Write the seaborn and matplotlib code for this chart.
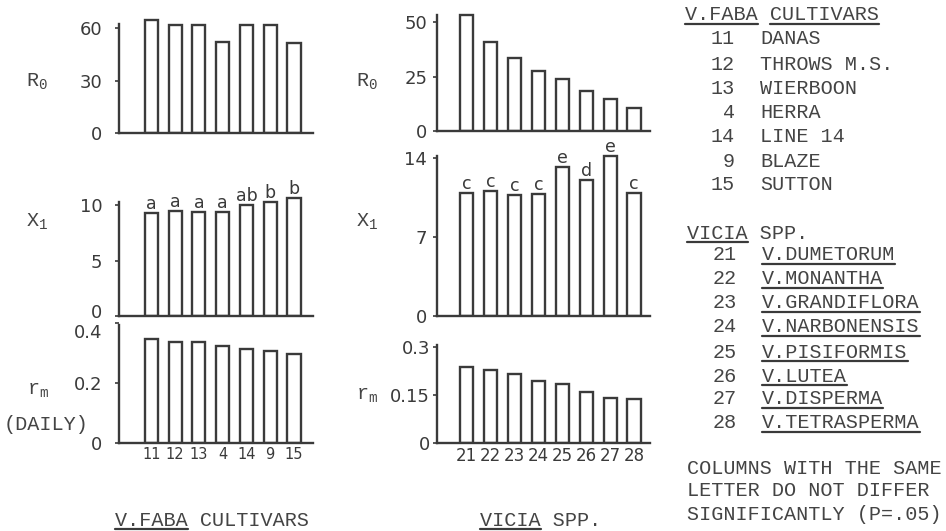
import matplotlib
matplotlib.use('Agg')
import matplotlib.pyplot as plt
from matplotlib.lines import Line2D
from matplotlib.transforms import ScaledTranslation
import seaborn as sns

# ---------------- data ----------------
faba_ids = ['11', '12', '13', '4', '14', '9', '15']
faba_R0 = [64.5, 62, 62, 52, 62, 62, 51.5]
faba_X1 = [9.25, 9.5, 9.4, 9.4, 10.0, 10.3, 10.6]
faba_rm = [0.347, 0.337, 0.337, 0.323, 0.313, 0.307, 0.297]
faba_letters = ['a', 'a', 'a', 'a', 'ab', 'b', 'b']
faba_names = ['DANAS', 'THROWS M.S.', 'WIERBOON', 'HERRA', 'LINE 14', 'BLAZE', 'SUTTON']

vicia_ids = ['21', '22', '23', '24', '25', '26', '27', '28']
vicia_R0 = [53, 41, 33.5, 27.5, 24, 18.5, 14.5, 10.5]
vicia_X1 = [10.9, 11.1, 10.7, 10.8, 13.2, 12.0, 14.2, 10.9]
vicia_rm = [0.238, 0.228, 0.215, 0.195, 0.185, 0.16, 0.14, 0.137]
vicia_letters = ['c', 'c', 'c', 'c', 'e', 'd', 'e', 'c']
vicia_names = ['V.DUMETORUM', 'V.MONANTHA', 'V.GRANDIFLORA', 'V.NARBONENSIS',
               'V.PISIFORMIS', 'V.LUTEA', 'V.DISPERMA', 'V.TETRASPERMA']

faba_title = 'V.FABA CULTIVARS'
vicia_title = 'VICIA SPP.'
footnote = ['COLUMNS WITH THE SAME', 'LETTER DO NOT DIFFER', 'SIGNIFICANTLY (P=.05)']

faba_yticks = {'R0': [0, 30, 60], 'X1': [0, 5, 10], 'rm': [0, 0.2, 0.4]}
faba_yticklabels = {'R0': ['0', '30', '60'], 'X1': ['0', '5', '10'], 'rm': ['0', '0.2', '0.4']}
vicia_yticks = {'R0': [0, 25, 50], 'X1': [0, 7, 14], 'rm': [0, 0.15, 0.3]}
vicia_yticklabels = {'R0': ['0', '25', '50'], 'X1': ['0', '7', '14'], 'rm': ['0', '0.15', '0.3']}

# ---------------- style ----------------
sns.set_style('white')
plt.rcParams['font.family'] = ['DejaVu Sans']
LC = '#3a3a3a'
TC = '#444444'
MONO = 'Liberation Mono'
W, H = 946, 531

fig = plt.figure(figsize=(W / 100, H / 100), dpi=100)
fig.patch.set_facecolor('white')


def P(x, y):
    return x / W, 1 - y / H


def make_ax(x0, x1, ybase, ytop):
    return fig.add_axes([x0 / W, 1 - ybase / H, (x1 - x0) / W, (ybase - ytop) / H])


def draw_panel(ax, ids, vals, yticks, yticklabels, ylim, spine_top, xlim,
               ypad, show_x=False, xsize=11, letters=None):
    sns.barplot(x=ids, y=vals, order=ids, ax=ax, fill=False, color=LC,
                saturation=1, width=0.55, linewidth=1.7, errorbar=None)
    ax.set_xlim(*xlim)
    ax.set_ylim(*ylim)
    ax.set_facecolor('none')
    ax.set_xlabel('')
    ax.set_ylabel('')
    for s in ['top', 'right']:
        ax.spines[s].set_visible(False)
    for s in ['left', 'bottom']:
        ax.spines[s].set_color(LC)
        ax.spines[s].set_linewidth(1.7)
    ax.spines['left'].set_bounds(0, spine_top)
    ax.set_yticks(yticks)
    ax.set_yticklabels(yticklabels)
    ax.tick_params(axis='y', length=3, width=1.2, color=LC, labelsize=13,
                   labelcolor=LC, pad=ypad, left=True)
    ax.tick_params(axis='x', length=0, labelsize=xsize, labelcolor=LC, pad=3,
                   labelbottom=show_x)
    if letters is not None:
        for i, (v, t) in enumerate(zip(vals, letters)):
            ax.text(i, v, t, ha='center', va='bottom', fontsize=12.5,
                    color=LC, clip_on=False)


def shift_label(ax, idx, dy_px):
    lab = ax.yaxis.get_major_ticks()[idx].label1
    lab.set_transform(lab.get_transform() +
                      ScaledTranslation(0, dy_px / 100, fig.dpi_scale_trans))


# left column (V. faba)
fxl = (-1.36, 6.8)
ax1 = make_ax(119, 313, 133, 18)
draw_panel(ax1, faba_ids, faba_R0, faba_yticks['R0'], faba_yticklabels['R0'],
           (0, 115 / 1.75), 62.3, fxl, 9)
ax2 = make_ax(119, 313, 316, 195)
draw_panel(ax2, faba_ids, faba_X1, faba_yticks['X1'], faba_yticklabels['X1'],
           (0, 121 / 11.1), 10.3, fxl, 9, letters=faba_letters)
ax3 = make_ax(119, 313, 443, 323)
draw_panel(ax3, faba_ids, faba_rm, faba_yticks['rm'], faba_yticklabels['rm'],
           (0, 0.4), 0.393, fxl, 9, show_x=True, xsize=10.5)
shift_label(ax2, 0, 5)
shift_label(ax3, 2, -8)

# middle column (Vicia spp.)
vxl = (-1.24, 7.67)
ax4 = make_ax(437, 650, 131, 12)
draw_panel(ax4, vicia_ids, vicia_R0, vicia_yticks['R0'], vicia_yticklabels['R0'],
           (0, 119 / 2.18), 53.2, vxl, 4)
ax5 = make_ax(437, 650, 316, 150)
draw_panel(ax5, vicia_ids, vicia_X1, vicia_yticks['X1'], vicia_yticklabels['X1'],
           (0, 166 / 11.3), 14.2, vxl, 4, letters=vicia_letters)
ax6 = make_ax(437, 650, 443, 343)
draw_panel(ax6, vicia_ids, vicia_rm, vicia_yticks['rm'], vicia_yticklabels['rm'],
           (0, 0.3125), 0.306, vxl, 2, show_x=True, xsize=12)

# y labels
FS = 14.5


def ftext(x, y, s, ha='left', va='center', size=FS, color=TC, family=MONO):
    return fig.text(*P(x, y), s, ha=ha, va=va, fontsize=size, color=color,
                    family=family)


ftext(26, 82, r'$\mathregular{R_0}$')
ftext(26, 222, r'$\mathregular{X_1}$')
ftext(27, 390, r'$\mathregular{r_m}$')
ftext(46, 425, '(DAILY)', ha='center')
ftext(356, 82, r'$\mathregular{R_0}$')
ftext(356, 222, r'$\mathregular{X_1}$')
ftext(356, 395, r'$\mathregular{r_m}$')

# underlined texts
underlines = []  # (text artist, start char, end char)

t = ftext(115, 520, faba_title)
underlines.append((t, 0, 6))
t = ftext(480, 520, vicia_title)
underlines.append((t, 0, 5))

# legend
t = ftext(685, 15, faba_title)
underlines.append((t, 0, 6))
underlines.append((t, 7, 16))
faba_rows = [39, 64, 88, 113, 137, 161, 184]
for fid, name, y in zip(faba_ids, faba_names, faba_rows):
    ftext(735, y, fid, ha='right')
    ftext(760, y, name)

t = ftext(687, 234, vicia_title)
underlines.append((t, 0, 5))
vicia_rows = [255, 279, 303, 327, 352, 376, 399, 423]
for vid, name, y in zip(vicia_ids, vicia_names, vicia_rows):
    ftext(737, y, vid, ha='right')
    t = ftext(762, y, name)
    underlines.append((t, 0, len(name)))

for s, y in zip(footnote, [468, 491, 514]):
    ftext(687, y, s)

fig.canvas.draw()
for t, a, b in underlines:
    bb = t.get_window_extent()
    cw = bb.width / len(t.get_text())
    x0 = bb.x0 + a * cw
    x1 = bb.x0 + b * cw
    yl = bb.y0 + 1
    fig.add_artist(Line2D([x0 / W, x1 / W], [yl / H, yl / H],
                          transform=fig.transFigure, color=LC, lw=1.6))

fig.savefig('out.png', dpi=100, facecolor='white')
